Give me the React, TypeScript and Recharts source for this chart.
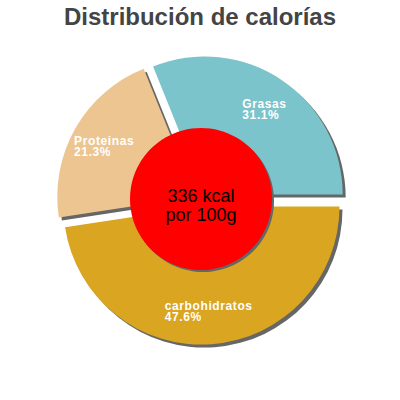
import React from "react";
import { PieChart, Pie, Cell } from "recharts";

// datos del gráfico
const NAMES = ["Grasas", "Proteinas", "carbohidratos"];
const VALUES = [31.1, 21.3, 47.6];
const COLORS = ["#7bc4cb", "#edc591", "#daa520"];
const TITLE = "Distribución de calorías";
const CENTER_LINES = ["336 kcal", "por 100g"];

const data = NAMES.map((name, i) => ({ name, value: VALUES[i] }));
const centerData = [{ name: "kcal", value: 1 }];

const CX = 201;
const CY = 200;
const RADIUS = 138;
const INNER = 71;
const EXPLODE = 6.6;
const SHADOW = 3;
const RAD = Math.PI / 180;

// ángulo medio de cada porción (para separarlas)
const total = VALUES.reduce((a, b) => a + b, 0);
const mids: number[] = [];
let acc = 0;
VALUES.forEach((v) => {
  mids.push(((acc + v / 2) / total) * 360);
  acc += v;
});

const sliceLabel = (target: number) => (props: any) => {
  if (props.index !== target) return null;
  const r = 104;
  const x = props.cx + r * Math.cos(-props.midAngle * RAD);
  const y = props.cy + r * Math.sin(-props.midAngle * RAD);
  const w = props.name.length * 6.85;
  return (
    <text
      x={x - w / 2}
      y={y}
      fill="#fff"
      fontSize={12}
      fontWeight="bold"
      letterSpacing={0.6}
      fontFamily="'Liberation Sans', Arial, sans-serif"
    >
      <tspan x={x - w / 2} y={y - 0.5}>
        {props.name}
      </tspan>
      <tspan x={x - w / 2} y={y + 11}>
        {(props.percent * 100).toFixed(1)}%
      </tspan>
    </text>
  );
};

const centerLabel = () => (
  <text
    textAnchor="middle"
    fill="#000"
    fontSize={18}
    fontFamily="'Liberation Sans', Arial, sans-serif"
  >
    <tspan x={CX} y={CY + 2}>
      {CENTER_LINES[0]}
    </tspan>
    <tspan x={CX} y={CY + 21}>
      {CENTER_LINES[1]}
    </tspan>
  </text>
);

export default function App() {
  const shadows = mids.map((m, i) => (
    <Pie
      key={`shadow-${i}`}
      data={data}
      dataKey="value"
      cx={CX + EXPLODE * Math.cos(m * RAD) + SHADOW}
      cy={CY - EXPLODE * Math.sin(m * RAD) + SHADOW}
      outerRadius={RADIUS}
      isAnimationActive={false}
      stroke="none"
    >
      {data.map((_, j) => (
        <Cell key={j} fill={j === i ? "#666" : "transparent"} />
      ))}
    </Pie>
  ));

  const slices = mids.map((m, i) => (
    <Pie
      key={`slice-${i}`}
      data={data}
      dataKey="value"
      cx={CX + EXPLODE * Math.cos(m * RAD)}
      cy={CY - EXPLODE * Math.sin(m * RAD)}
      outerRadius={RADIUS}
      isAnimationActive={false}
      stroke="none"
      label={sliceLabel(i)}
      labelLine={false}
    >
      {data.map((_, j) => (
        <Cell key={j} fill={j === i ? COLORS[i] : "transparent"} />
      ))}
    </Pie>
  ));

  return (
    <div style={{ position: "absolute", left: 0, top: 0, width: 400, height: 400 }}>
      <div
        style={{
          position: "absolute",
          top: 5,
          left: 0,
          width: 400,
          textAlign: "center",
          fontFamily: "'Liberation Sans', Arial, sans-serif",
          fontWeight: "bold",
          fontSize: 24,
          lineHeight: "24px",
          color: "#444",
        }}
      >
        {TITLE}
      </div>
      <PieChart width={400} height={400} margin={{ top: 0, right: 0, bottom: 0, left: 0 }}>
        {shadows}
        {slices}
        <Pie
          data={centerData}
          dataKey="value"
          cx={CX + 2}
          cy={CY + 1}
          outerRadius={INNER}
          fill="#666"
          stroke="none"
          isAnimationActive={false}
        />
        <Pie
          data={centerData}
          dataKey="value"
          cx={CX}
          cy={CY - 1}
          outerRadius={INNER}
          fill="#ff0000"
          stroke="none"
          isAnimationActive={false}
          label={centerLabel}
          labelLine={false}
        />
      </PieChart>
    </div>
  );
}
